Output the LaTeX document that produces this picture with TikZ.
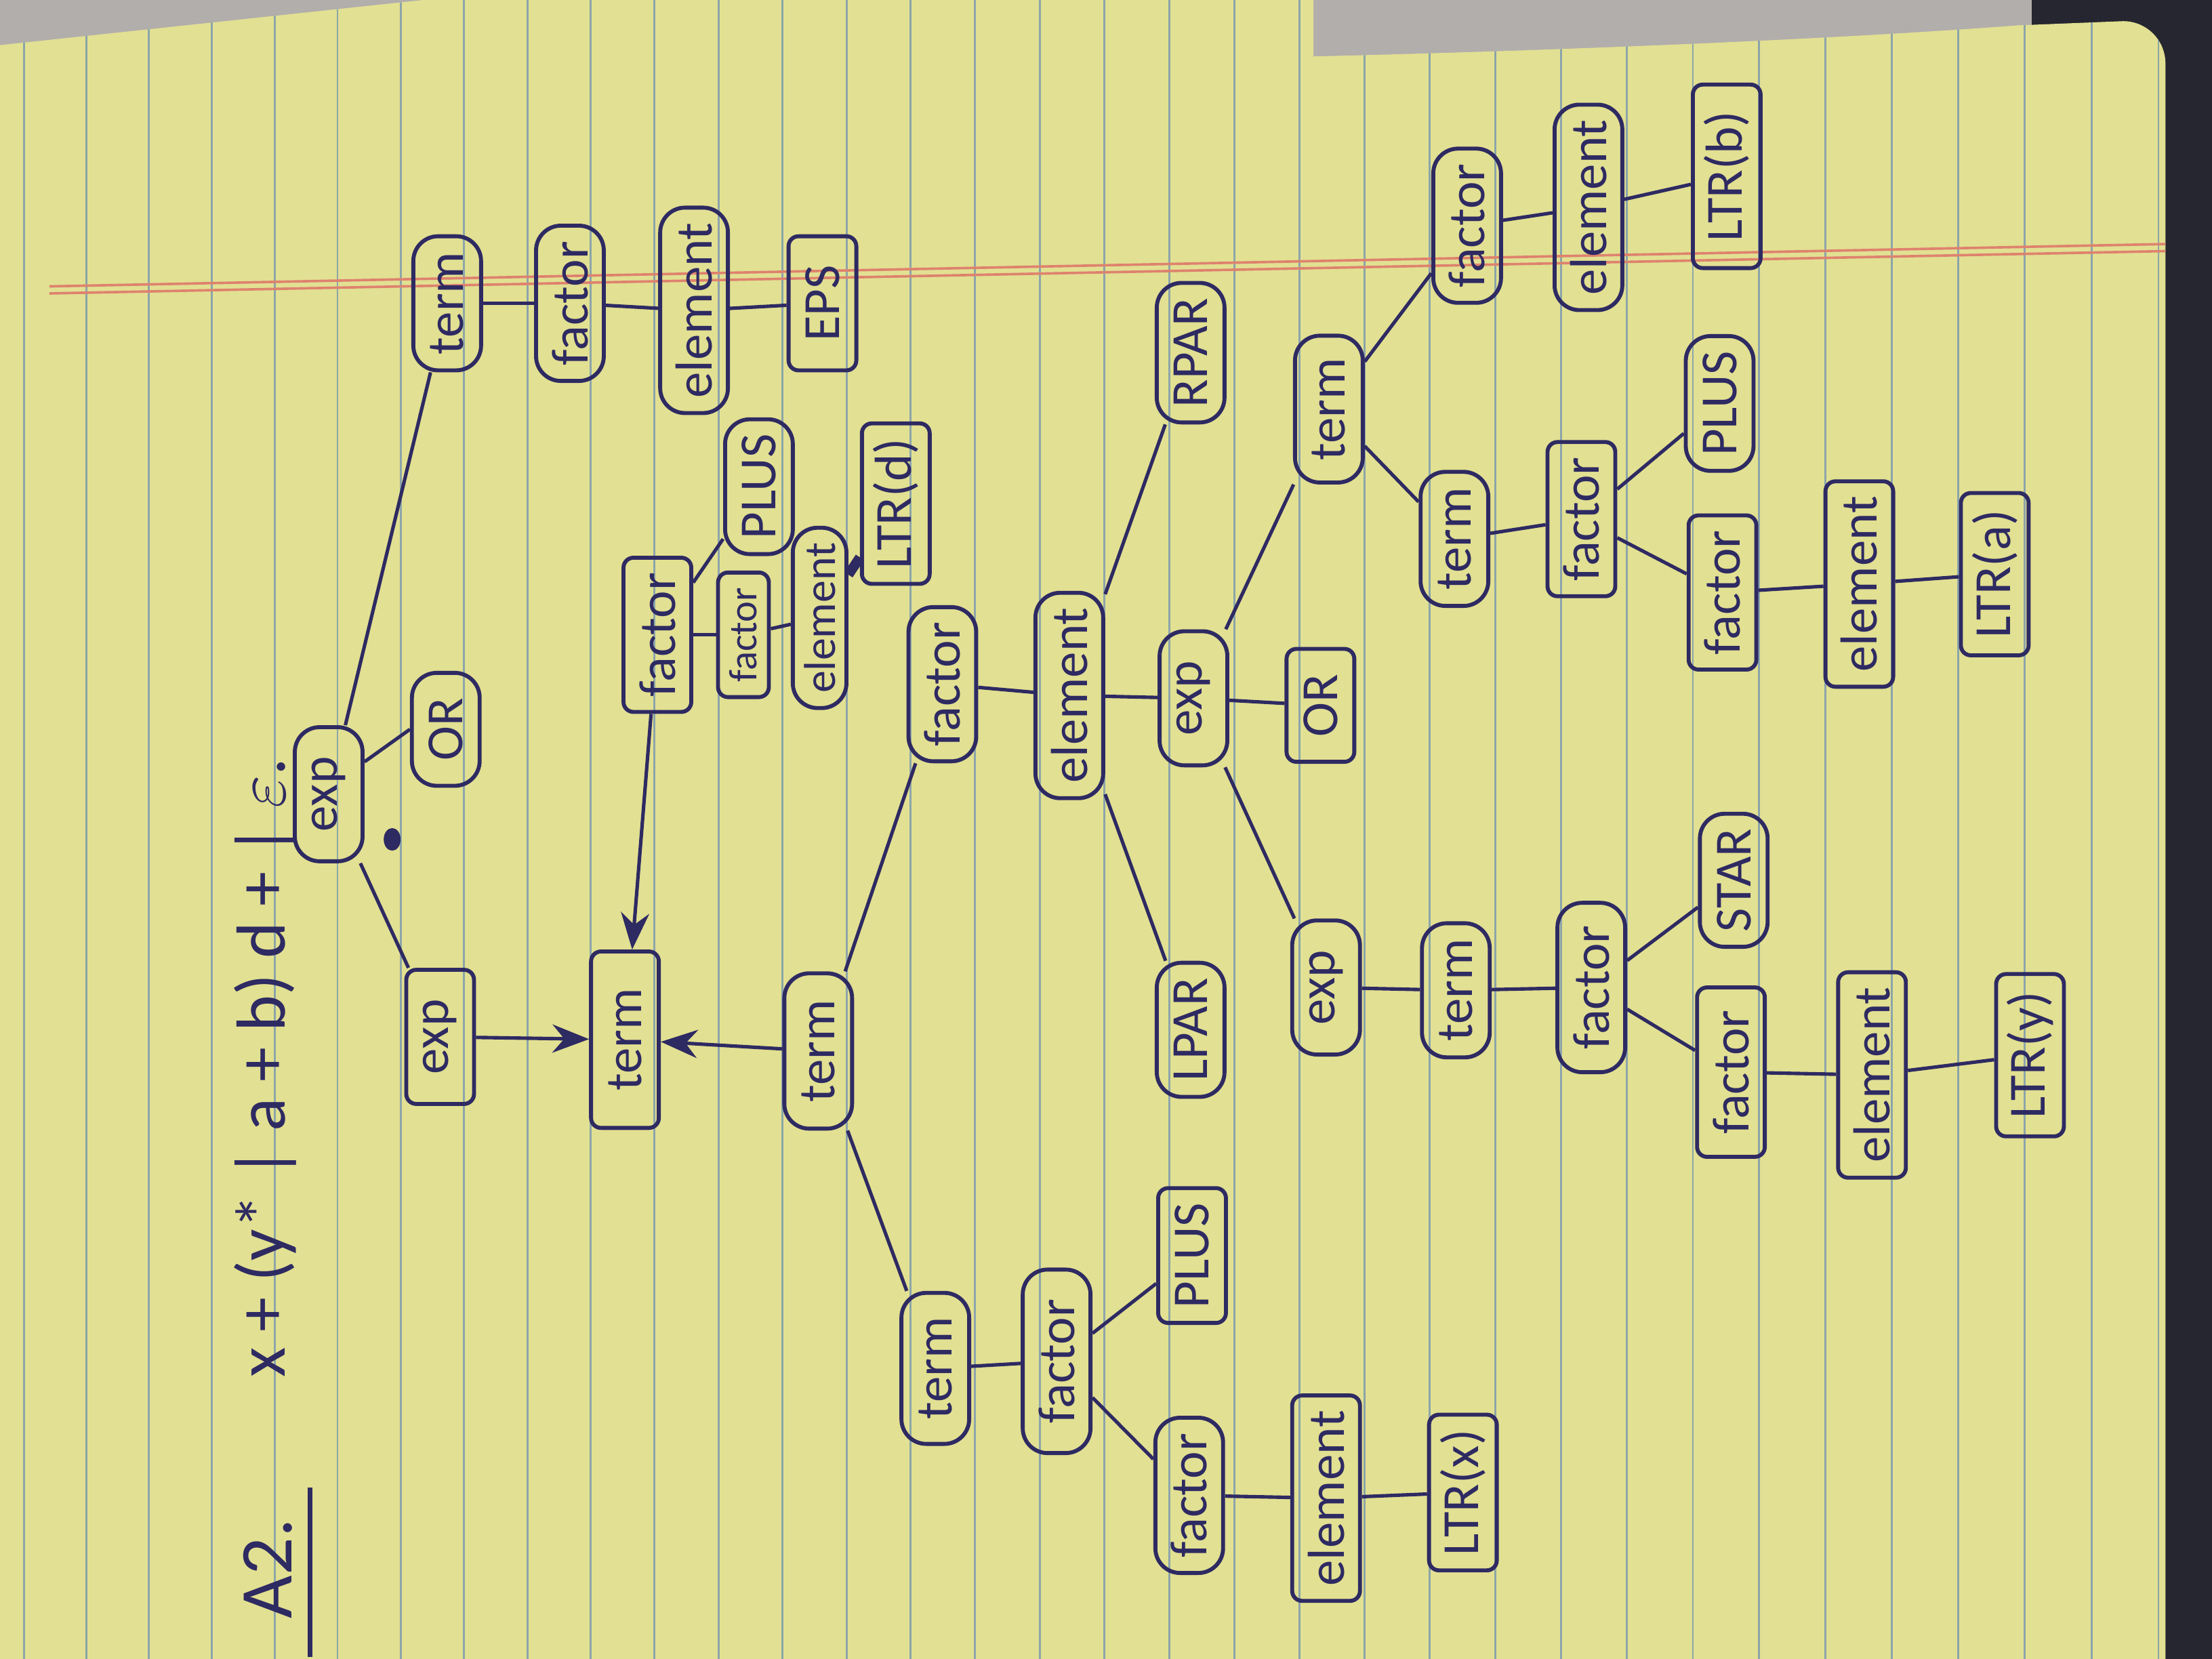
\documentclass[tikz,border=0pt]{standalone}
\usepackage{fontspec}
\setmainfont{Carlito}
\usetikzlibrary{arrows.meta, positioning}
\definecolor{ink}{RGB}{46,42,98}
\definecolor{padyellow}{RGB}{226,224,146}
\definecolor{rulegrey}{RGB}{140,165,170}
\definecolor{marginred}{RGB}{222,130,110}
\definecolor{deskgrey}{RGB}{178,174,172}
\definecolor{shadowdark}{RGB}{38,38,48}

\begin{document}
\begin{tikzpicture}[
    x=0.01cm, y=-0.01cm,
    sym/.style={draw=ink, line width=0.8pt, rounded corners=5pt, rotate=90, minimum width=0.95cm, minimum height=0.48cm, inner xsep=3pt, inner ysep=1pt, text=ink, font=\fontsize{10.5}{12}\selectfont},
    tok/.style={sym, rounded corners=2pt},
    link/.style={draw=ink, line width=0.7pt},
    into/.style={link, -{Stealth[length=2.6mm, width=2mm]}}
]
    % Desk and pad
    \useasboundingbox (0,0) rectangle (1568,1176);
    \fill[shadowdark] (0,0) rectangle (1568,1176);
    \fill[deskgrey] (0,0) rectangle (1440,45);
    \fill[padyellow] (0,32) -- (300,0) -- (931,0) -- (931,40) -- (0,40) -- cycle;
    \fill[padyellow] (0,38) -- (931,40) .. controls (1100,36) and (1300,28) .. (1430,18) -- (1505,15) to[out=0,in=90] (1535,45) -- (1535,1176) -- (0,1176) -- cycle;
    \begin{scope}
        \clip (0,32) -- (300,0) -- (931,0) -- (931,40) -- (0,40) -- cycle
              (0,38) -- (931,40) .. controls (1100,36) and (1300,28) .. (1430,18) -- (1505,15) to[out=0,in=90] (1535,45) -- (1535,1176) -- (0,1176) -- cycle;
        \foreach \k in {-6,...,27}{
            \pgfmathsetmacro{\rx}{284+44.8*\k+0.05*\k*\k}
            \draw[rulegrey, line width=0.4pt] (\rx,0) -- (\rx,1176);
        }
        \draw[marginred, line width=0.5pt] (35,208) -- (1535,178);
        \draw[marginred, line width=0.5pt] (35,203) -- (1535,173);
    \end{scope}

    % Heading
    \node[text=ink, rotate=90, font=\fontsize{15}{18}\selectfont] (hw) at (190,1112) {A2.};
    \draw[ink, line width=0.9pt] ([yshift=-0.15cm]hw.south west) -- ([yshift=0.1cm]hw.south east);
    \node[text=ink, rotate=90, font=\fontsize{14}{17}\selectfont] (regex) at (188,757) {x + (y* | a + b) d + | $\varepsilon$.};

    % Root
    \node[sym] (exp0) at (233,563) {exp};
    \node[sym, minimum width=0.8cm] (or0) at (316,517) {OR};
    \fill[ink] (278,595) ellipse [x radius=6, y radius=8];

    % Empty branch
    \node[sym] (term1) at (317,215) {term};
    \node[sym, minimum width=1.1cm] (fac1) at (404,215) {factor};
    \node[sym] (elem1) at (492,220) {element};
    \node[tok] (eps1) at (583,215) {EPS};

    % d+
    \node[tok] (exp1) at (312,735) {exp};
    \node[tok, minimum width=1.25cm] (term2) at (443,737) {term};
    \node[tok] (fac2) at (466,450) {factor};
    \node[sym, minimum width=0.8cm] (plus2) at (538,345) {PLUS};
    \node[tok, minimum width=0.8cm, minimum height=0.36cm, font=\fontsize{8}{9}\selectfont] (fac3) at (527,450) {factor};
    \node[sym, minimum height=0.38cm, font=\fontsize{9}{10}\selectfont] (elem3) at (581,438) {element};
    \node[tok] (ltrd) at (635,357) {LTR(d)};

    % ( ... )
    \node[sym, minimum width=1.1cm] (term3) at (580,745) {term};
    \node[sym] (fac4) at (668,485) {factor};
    \node[sym] (elem4) at (758,493) {element};
    \node[sym, minimum width=0.7cm] (rpar) at (844,250) {RPAR};
    \node[sym] (exp4) at (846,495) {exp};
    \node[tok, minimum width=0.8cm] (or4) at (936,500) {OR};
    \node[sym] (lpar) at (844,730) {LPAR};

    % a+ b
    \node[sym, minimum width=1.04cm] (term5) at (942,290) {term};
    \node[sym] (fac5) at (1040,160) {factor};
    \node[sym, minimum width=1.37cm] (elem5) at (1126,147) {element};
    \node[tok, minimum width=1.3cm] (ltrb) at (1224,125) {LTR(b)};
    \node[sym] (term6) at (1031,382) {term};
    \node[tok] (fac6) at (1121,368) {factor};
    \node[sym, minimum width=0.72cm] (plus6) at (1219,286) {PLUS};
    \node[tok] (fac7) at (1221,420) {factor};
    \node[tok] (elem7) at (1318,414) {element};
    \node[tok, minimum width=1.15cm] (ltra) at (1414,407) {LTR(a)};

    % y*
    \node[sym] (exp8) at (940,700) {exp};
    \node[sym] (term8) at (1032,702) {term};
    \node[sym, minimum width=1.2cm] (fac8) at (1128,700) {factor};
    \node[sym, minimum width=0.72cm] (star8) at (1229,624) {STAR};
    \node[tok, minimum width=1.2cm] (fac9) at (1227,760) {factor};
    \node[tok] (elem9) at (1327,762) {element};
    \node[tok, minimum width=1.15cm] (ltry) at (1439,748) {LTR(y)};

    % x+
    \node[sym, minimum width=1.07cm] (term10) at (663,970) {term};
    \node[sym, minimum width=1.3cm] (fac10) at (749,965) {factor};
    \node[tok, minimum width=0.87cm] (plus10) at (845,890) {PLUS};
    \node[sym, minimum width=1.1cm] (fac11) at (843,1060) {factor};
    \node[tok] (elem11) at (940,1062) {element};
    \node[tok, minimum width=1.07cm] (ltrx) at (1037,1058) {LTR(x)};

    % Connectors
    \draw[link] ([yshift=0.23cm]exp0.south) -- (or0.north);
    \draw[link] (exp0) -- (term1);
    \draw[link] (exp0) -- (exp1);
    \draw[link] (term1) -- (fac1);
    \draw[link] (fac1) -- (elem1);
    \draw[link] (elem1) -- (eps1);

    \draw[into] (exp1) -- (term2);
    \draw[into] (term3) -- (term2);
    \draw[into] (fac2) -- (term2);
    \draw[link] (fac2) -- (plus2);
    \draw[link] (fac2) -- (fac3);
    \draw[link] (fac3) -- (elem3);
    \draw[link, line width=2pt] (elem3) -- (ltrd);

    \draw[link] (term3) -- (fac4);
    \draw[link] (term3) -- (term10);
    \draw[link] (fac4) -- (elem4);
    \draw[link] (elem4) -- (rpar);
    \draw[link] (elem4) -- (exp4);
    \draw[link] (elem4) -- (lpar);
    \draw[link] (exp4) -- (or4);
    \draw[link] (exp4) -- (term5);
    \draw[link] (exp4) -- (exp8);

    \draw[link] (term5) -- (fac5);
    \draw[link] (term5) -- (term6);
    \draw[link] (fac5) -- (elem5);
    \draw[link] (elem5) -- (ltrb);
    \draw[link] (term6) -- (fac6);
    \draw[link] (fac6) -- (plus6);
    \draw[link] (fac6) -- (fac7);
    \draw[link] (fac7) -- (elem7);
    \draw[link] (elem7) -- (ltra);

    \draw[link] (exp8) -- (term8);
    \draw[link] (term8) -- (fac8);
    \draw[link] (fac8) -- (star8);
    \draw[link] (fac8) -- (fac9);
    \draw[link] (fac9) -- (elem9);
    \draw[link] (elem9) -- (ltry);

    \draw[link] (term10) -- (fac10);
    \draw[link] (fac10) -- (plus10);
    \draw[link] (fac10) -- (fac11);
    \draw[link] (fac11) -- (elem11);
    \draw[link] (elem11) -- (ltrx);
\end{tikzpicture}
\end{document}
